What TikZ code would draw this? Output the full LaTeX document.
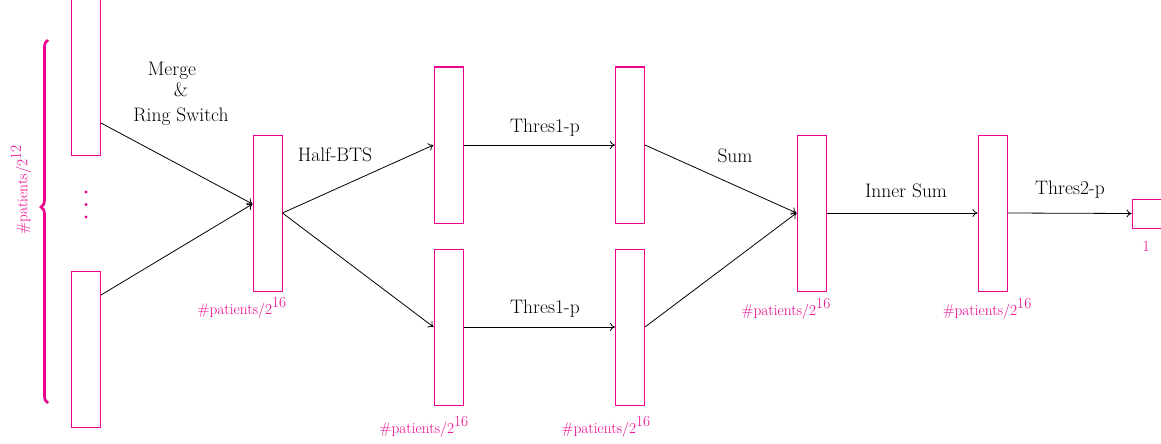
\documentclass[tikz,border=0pt]{standalone}
\usetikzlibrary{decorations.pathreplacing,arrows.meta}
\definecolor{mag}{RGB}{236,0,140}
\newcommand{\expo}[1]{\raisebox{6.5pt}{#1}}
\begin{document}
\begin{tikzpicture}[x=1pt,y=-1pt,
  bar/.style={draw=mag,line width=1pt,rectangle,inner sep=0pt,minimum width=29pt,minimum height=156pt},
  conn/.style={-{To[length=5pt,width=8pt]},line width=0.8pt,black},
  lbl/.style={font=\fontsize{19.5}{22}\selectfont,inner sep=0pt,anchor=center},
  cnt/.style={text=mag,font=\fontsize{15.3}{18}\selectfont,inner sep=0pt,anchor=center}]
\useasboundingbox (0,0) rectangle (1161,444);
% bars
\node[bar] (tl) at (86,77) {};
\node[bar] (bl) at (86,349) {};
\node[bar] (b) at (267.5,213) {};
\node[bar] (c1) at (448.5,145) {};
\node[bar] (c2) at (448.5,327) {};
\node[bar] (d1) at (630,145) {};
\node[bar] (d2) at (630,327) {};
\node[bar] (e) at (811.5,213) {};
\node[bar] (f) at (992.5,213) {};
\node[draw=mag,line width=1pt,rectangle,inner sep=0pt,minimum width=32pt,minimum height=29pt] (g) at (1148,213.5) {};
% dots
\foreach \yy [count=\i] in {192,204.5,217}
  \fill[mag] (86,\yy) circle (1.7) coordinate (dot\i);
% brace
\draw[mag,line width=2.6pt,decorate,decoration={brace,amplitude=7pt,aspect=0.54}]
  (48,403) coordinate (brb) -- (48,40) coordinate (brt);
\node[cnt,rotate=90] (n12) at (21,190) {\#patients/2\expo{12}};
% connectors
\draw[conn] ([yshift=-46pt]tl.east) -- ([yshift=9pt]b.west);
\draw[conn] ([yshift=54pt]bl.east) -- ([yshift=9pt]b.west);
\draw[conn] (b.east) -- (c1.west);
\draw[conn] (b.east) -- (c2.west);
\draw[conn] (c1.east) -- (d1.west);
\draw[conn] (c2.east) -- (d2.west);
\draw[conn] (d1.east) -- (e.west);
\draw[conn] (d2.east) -- (e.west);
\draw[conn] (e.east) -- (f.west);
\draw[conn] (f.east) -- (g.west);
% labels
\node[lbl] (m1) at (172,71) {Merge};
\node[lbl] (m2) at (181,90) {\&};
\node[lbl] (m3) at (181,117) {Ring Switch};
\node[lbl] (hb) at (335,155) {Half-BTS};
\node[lbl] (t1) at (545,128) {Thres1-p};
\node[lbl] (t2) at (545,309) {Thres1-p};
\node[lbl] (sm) at (735,156) {Sum};
\node[lbl] (is) at (906,191) {Inner Sum};
\node[lbl] (t3) at (1070,190) {Thres2-p};
% counts
\node[cnt] (lb) at (242,308) {\#patients/2\expo{16}};
\node[cnt] (lc) at (424,427) {\#patients/2\expo{16}};
\node[cnt] (ld) at (606,427) {\#patients/2\expo{16}};
\node[cnt] (le) at (786,309) {\#patients/2\expo{16}};
\node[cnt] (lf) at (987,309) {\#patients/2\expo{16}};
\node[cnt] (lg) at (1146,246) {1};
\end{tikzpicture}
\end{document}
